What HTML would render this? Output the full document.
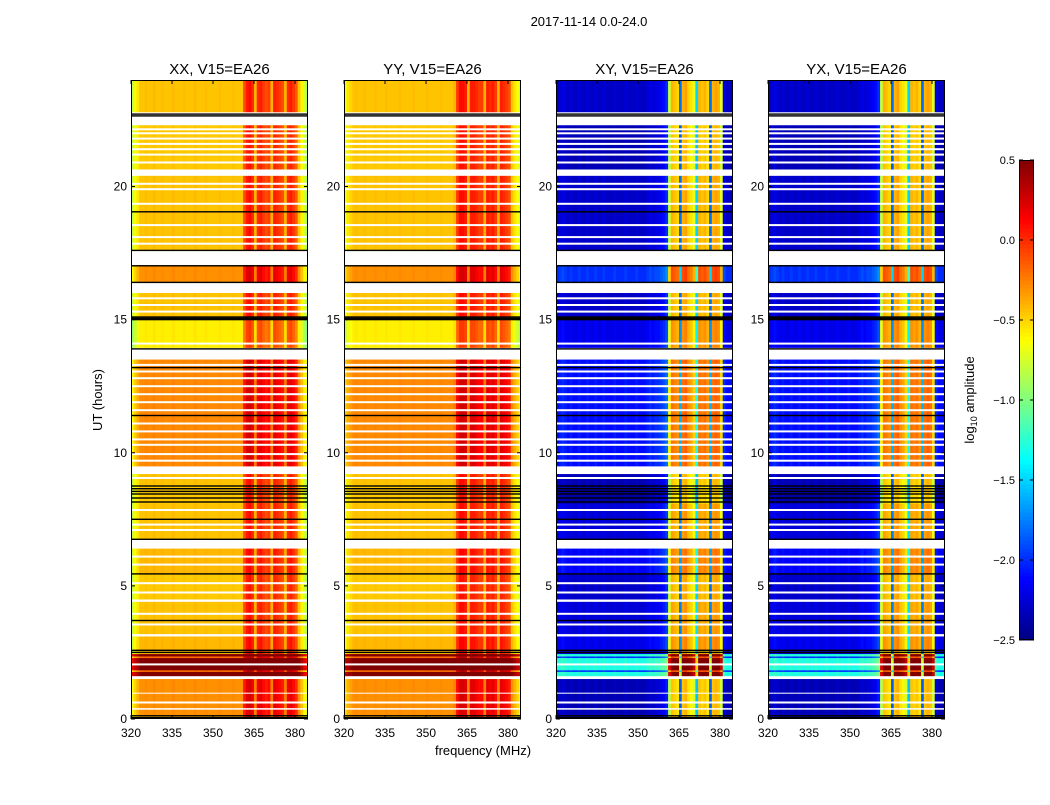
<!DOCTYPE html>
<html><head><meta charset="utf-8">
<style>
html,body{margin:0;padding:0;background:#fff;}
body{width:1050px;height:800px;overflow:hidden;font-family:"Liberation Sans",sans-serif;}
svg text{font-family:"Liberation Sans",sans-serif;}
</style></head>
<body>
<svg id="fig" width="1050" height="800" xmlns="http://www.w3.org/2000/svg">
<text x="589" y="26" font-size="13" text-anchor="middle">2017-11-14 0.0-24.0</text>
<text x="483" y="755" font-size="13" text-anchor="middle">frequency (MHz)</text>
<text transform="translate(102,400) rotate(-90)" font-size="13" text-anchor="middle">UT (hours)</text>
<text transform="translate(974,400) rotate(-90)" font-size="13" text-anchor="middle">log<tspan font-size="9" dy="3">10</tspan><tspan dy="-3"> amplitude</tspan></text>
<g id="panels"></g>
<g id="cbar"></g>
</svg>
<script>
// ---- data ----
const panelTitles = ["XX, V15=EA26","YY, V15=EA26","XY, V15=EA26","YX, V15=EA26"];
const panelIsCross = [false,false,true,true];
const freqStart = 320; // MHz, 1 MHz bins
const profileXX = [-0.85,-0.7,-0.6,-0.5,-0.5,-0.48,-0.5,-0.5,-0.47,-0.5,-0.5,-0.48,-0.5,-0.5,-0.5,-0.47,-0.5,-0.5,-0.5,-0.48,-0.5,-0.5,-0.5,-0.47,-0.5,-0.5,-0.5,-0.48,-0.5,-0.5,-0.5,-0.5,-0.48,-0.5,-0.5,-0.5,-0.5,-0.48,-0.5,-0.5,-0.5,-0.15,0.0,0.05,-0.05,-0.45,-0.05,0.0,-0.1,-0.15,-0.1,-0.45,0.0,-0.05,-0.1,-0.15,-0.45,-0.05,0.0,-0.1,-0.2,-0.5,-0.65,-0.8,-0.9];
const profileYY = [-0.7,-0.6,-0.55,-0.5,-0.48,-0.5,-0.5,-0.48,-0.5,-0.5,-0.5,-0.48,-0.5,-0.5,-0.5,-0.48,-0.5,-0.5,-0.5,-0.5,-0.48,-0.5,-0.5,-0.5,-0.5,-0.48,-0.5,-0.5,-0.5,-0.5,-0.48,-0.5,-0.5,-0.5,-0.5,-0.48,-0.5,-0.5,-0.5,-0.5,-0.45,-0.1,0.05,0.05,0.0,-0.45,0.0,0.0,-0.05,-0.1,-0.1,-0.45,0.0,-0.05,0.0,-0.1,-0.45,0.0,-0.05,-0.1,-0.15,-0.5,-0.6,-0.7,-0.8];
const profileXY = [-2.4,-2.35,-2.3,-2.35,-2.4,-2.35,-2.4,-2.4,-2.35,-2.4,-2.4,-2.35,-2.4,-2.4,-2.35,-2.4,-2.4,-2.35,-2.4,-2.4,-2.4,-2.35,-2.4,-2.4,-2.4,-2.35,-2.4,-2.4,-2.4,-2.35,-2.4,-2.4,-2.4,-2.35,-2.3,-2.35,-2.3,-2.3,-2.25,-2.2,-2.1,-0.9,-0.5,-0.55,-0.6,-1.9,-0.5,-0.45,-0.6,-0.65,-0.8,-1.6,-0.5,-0.55,-0.5,-0.6,-1.9,-0.5,-0.45,-0.5,-0.8,-2.3,-2.4,-2.4,-2.4];
const profileYX = [-2.4,-2.35,-2.3,-2.35,-2.4,-2.35,-2.4,-2.4,-2.35,-2.4,-2.4,-2.35,-2.4,-2.4,-2.35,-2.4,-2.4,-2.35,-2.4,-2.4,-2.4,-2.35,-2.4,-2.4,-2.4,-2.35,-2.4,-2.4,-2.4,-2.35,-2.4,-2.4,-2.4,-2.35,-2.3,-2.35,-2.3,-2.3,-2.25,-2.2,-2.1,-0.9,-0.5,-0.55,-0.6,-1.9,-0.5,-0.45,-0.6,-0.65,-0.8,-1.6,-0.5,-0.55,-0.5,-0.6,-1.9,-0.5,-0.45,-0.5,-0.8,-2.3,-2.4,-2.4,-2.4];
const profiles = [profileXX,profileYY,profileXY,profileYX];
// time segments: start hour, end hour, parallel-hand offset, cross-hand offset (null = no data)
const segStart = [0,0.15,0.35,0.42,0.95,1.0,1.5,1.62,1.78,1.84,2.3,2.36,2.45,2.6,3.1,3.2,4.4,4.5,5.45,6.4,6.75,8.1,8.8,9.2,9.5,13.5,13.95,15.1,16.0,16.4,17.05,17.6,19.05,20.4,20.65,22.3,22.8];
const segEnd   = [0.15,0.35,0.42,0.95,1.0,1.5,1.62,1.78,1.84,2.3,2.36,2.45,2.6,3.1,3.2,4.4,4.5,5.45,6.4,6.75,8.1,8.8,9.2,9.5,13.5,13.95,15.1,16.0,16.4,17.05,17.6,19.05,20.4,20.65,22.3,22.8,24];
const segPar   = [0.1,0.2,null,0.2,null,0.2,null,1.0,0.3,1.0,0.3,1.0,0.05,0.08,null,0.05,null,0.03,0.08,null,0.05,0.03,0.05,null,0.22,null,-0.08,0.05,null,0.2,null,0.05,0.05,null,0.03,null,0.05];
const segCross = [0.05,0.05,null,0.05,null,0.05,null,1.1,0.4,1.1,0.4,1.1,0.1,0.2,null,0.15,null,0.1,0.25,null,0.15,0.0,0.05,null,0.3,null,0.2,0.1,null,0.4,null,0.1,0.1,null,0.05,null,0.1];
const whiteLines = [0.62,2.05,3.55,3.95,4.75,5.1,5.8,6.1,7.1,7.3,7.85,9.05,9.7,9.95,10.3,10.5,10.8,11.1,11.6,11.9,12.2,12.5,12.8,13.05,13.3,14.1,15.3,15.55,15.8,17.85,18.1,18.55,19.35,19.9,20.1,20.9,21.2,21.4,21.6,21.8,22.0,22.15];
const blackLines = [0.05,0.12,2.5,2.58,3.7,5.45,6.75,7.5,8.15,8.3,8.45,8.55,8.65,8.75,11.4,13.2,13.9,15.0,15.05,15.1,16.4,17.02,17.6,19.05,22.65,22.72];
const xTicks = [320,335,350,365,380];
const yTicks = [0,5,10,15,20];
const cbTicks = [0.5,0.0,-0.5,-1.0,-1.5,-2.0,-2.5];
const cbTickLabels = ["0.5","0.0","\u22120.5","\u22121.0","\u22121.5","\u22122.0","\u22122.5"];

// ---- layout ----
const panelX = [131,344,556,768];
const PW = 177, PTOP = 80, PBOT = 719;
const vmin = -2.5, vmax = 0.5;
const pxPerMHz = 41/15;
function xScale(p,f){return panelX[p] + (f-freqStart)*pxPerMHz;}
function yScale(h){return PBOT - h*(PBOT-PTOP)/24;}
function jet(v){
  let x=(v-vmin)/(vmax-vmin); x=Math.max(0,Math.min(1,x));
  const c=t=>Math.round(255*Math.max(0,Math.min(1,t)));
  return `rgb(${c(1.5-Math.abs(4*x-3))},${c(1.5-Math.abs(4*x-2))},${c(1.5-Math.abs(4*x-1))})`;
}
const NS="http://www.w3.org/2000/svg";
function mk(tag,attrs,parent){const e=document.createElementNS(NS,tag);for(const k in attrs)e.setAttribute(k,attrs[k]);parent.appendChild(e);return e;}
const root=document.getElementById('panels');
for(let p=0;p<4;p++){
  const g=mk('g',{},root);
  
  
  const cid='clip'+p;
  const cp=mk('clipPath',{id:cid},g);
  mk('rect',{x:panelX[p],y:PTOP,width:PW,height:PBOT-PTOP},cp);
  const hm=mk('g',{'clip-path':`url(#${cid})`},g);
  
  
  const prof=profiles[p];
  for(let s=0;s<segStart.length;s++){
    const off=panelIsCross[p]?segCross[s]:segPar[s];
    if(off===null) continue;
    const y0=yScale(segEnd[s]), y1=yScale(segStart[s]);
    for(let i=0;i<prof.length;i++){
      const x0=xScale(p,freqStart+i), x1=xScale(p,freqStart+i+1);
      const r=mk('rect',{x:x0.toFixed(2),y:y0.toFixed(2),width:(x1-x0+0.4).toFixed(2),height:(y1-y0+0.3).toFixed(2),fill:jet(prof[i]+off)},hm);
      
      
    }
  }
  for(const h of whiteLines){
    const l=mk('rect',{x:panelX[p],y:(yScale(h)-1).toFixed(1),width:PW,height:2,fill:'#fff'},hm);
    
    
  }
  for(const h of blackLines){
    const l=mk('rect',{x:panelX[p],y:(yScale(h)-0.7).toFixed(1),width:PW,height:1.4,fill:'#000'},hm);
    
    
  }
  const fr=mk('rect',{x:panelX[p]+0.5,y:PTOP+0.5,width:PW-1,height:PBOT-PTOP-1,fill:'none',stroke:'#000','stroke-width':1},g);
  
  
  const t=mk('text',{x:panelX[p]+PW/2,y:74,'font-size':15,'text-anchor':'middle'},g);
  t.textContent=panelTitles[p];
  
  
  for(const f of xTicks){
    const x=xScale(p,f);
    mk('line',{x1:x,x2:x,y1:PBOT,y2:PBOT-4,stroke:'#000'},g);
    mk('line',{x1:x,x2:x,y1:PTOP,y2:PTOP+4,stroke:'#000'},g);
    const tl=mk('text',{x:x,y:737,'font-size':12,'text-anchor':'middle'},g);
    tl.textContent=f;
    
    
  }
  for(const h of yTicks){
    const y=yScale(h);
    mk('line',{x1:panelX[p],x2:panelX[p]+4,y1:y,y2:y,stroke:'#000'},g);
    mk('line',{x1:panelX[p]+PW,x2:panelX[p]+PW-4,y1:y,y2:y,stroke:'#000'},g);
    const tl=mk('text',{x:panelX[p]-4,y:y+4,'font-size':12,'text-anchor':'end'},g);
    tl.textContent=h;
    
    
  }
}
// colorbar
const cb=document.getElementById('cbar');


const CBX=1019,CBW=15,CBT=160,CBB=640;
function cbY(v){return CBB-(v-vmin)/(vmax-vmin)*(CBB-CBT);}
for(let k=0;k<120;k++){
  const v0=vmin+k*(vmax-vmin)/120, v1=vmin+(k+1)*(vmax-vmin)/120;
  const r=mk('rect',{x:CBX,y:cbY(v1).toFixed(2),width:CBW,height:(cbY(v0)-cbY(v1)+0.5).toFixed(2),fill:jet((v0+v1)/2)},cb);
  
  
}
mk('rect',{x:CBX+0.5,y:CBT+0.5,width:CBW-1,height:CBB-CBT-1,fill:'none',stroke:'#000'},cb);
cbTicks.forEach((v,i)=>{
  const y=cbY(v);
  mk('line',{x1:CBX,x2:CBX+4,y1:y,y2:y,stroke:'#000'},cb);
  mk('line',{x1:CBX+CBW,x2:CBX+CBW-4,y1:y,y2:y,stroke:'#000'},cb);
  const t=mk('text',{x:CBX-4,y:y+4,'font-size':11,'text-anchor':'end'},cb);
  t.textContent=cbTickLabels[i];
  
  
});
</script>
</body></html>
